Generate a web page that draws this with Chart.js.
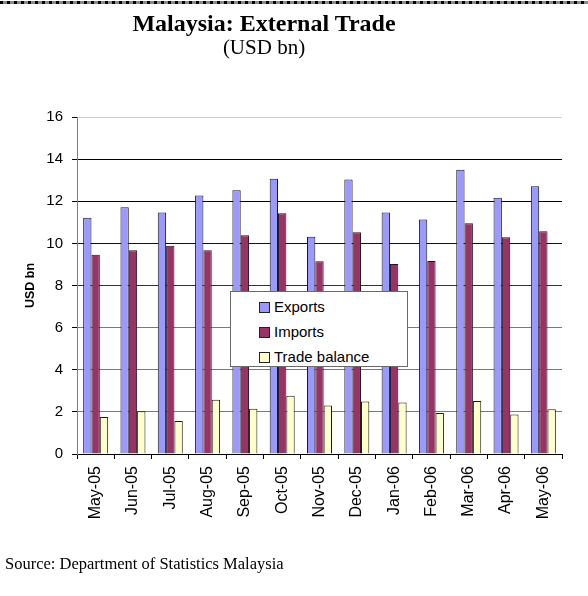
<!DOCTYPE html>
<html>
<head>
<meta charset="utf-8">
<script src="https://cdn.jsdelivr.net/npm/chart.js@4.4.1/dist/chart.umd.min.js"></script>
<style>
  html, body { margin: 0; padding: 0; background: #fff; }
  #wrap { position: relative; width: 588px; height: 596px; overflow: hidden; background: #fff; }
  #topline { position: absolute; left: 0; top: 1px; width: 588px; height: 3px;
    background: repeating-linear-gradient(90deg, #000 0 3.5px, #8a8a8a 3.5px 7px); }
  #c { position: absolute; left: 0; top: 0; }
  .title { position: absolute; left: 0; width: 528px; text-align: center; font-family: "Liberation Serif", "Times New Roman", serif; color: #000; line-height: 1; white-space: nowrap; }
  #t1 { top: 11px; font-size: 24px; font-weight: bold; }
  #t2 { top: 37px; font-size: 21px; }
  #src { position: absolute; left: 5px; top: 556px; font-family: "Liberation Serif", "Times New Roman", serif; font-size: 16.5px; line-height: 1; color: #000; white-space: nowrap; }
  #legend { position: absolute; left: 230px; top: 291px; width: 176px; height: 74px; background: #fff; border: 1px solid #6a6a6a; font-family: "Liberation Sans", Arial, sans-serif; font-size: 15px; color: #000; }
  .item { position: absolute; left: 28px; height: 20px; line-height: 20px; white-space: nowrap; }
  .sw { display: inline-block; width: 9px; height: 9px; border: 1px solid #222; vertical-align: middle; margin-right: 4px; position: relative; top: -1px; }
</style>
</head>
<body>
<div id="wrap">
  <div id="topline"></div>
  <canvas id="c" width="588" height="596"></canvas>
  <div class="title" id="t1">Malaysia: External Trade</div>
  <div class="title" id="t2">(USD bn)</div>
  <div id="legend"></div>
  <div id="src">Source: Department of Statistics Malaysia</div>
</div>
<script>
const categories = ["May-05","Jun-05","Jul-05","Aug-05","Sep-05","Oct-05","Nov-05","Dec-05","Jan-06","Feb-06","Mar-06","Apr-06","May-06"];
const exportsData = [11.22, 11.71, 11.46, 12.27, 12.52, 13.07, 10.32, 13.03, 11.46, 11.13, 13.49, 12.17, 12.71];
const importsData = [9.46, 9.67, 9.89, 9.67, 10.38, 11.43, 9.15, 10.53, 9.02, 9.16, 10.95, 10.29, 10.57];
const balanceData = [1.76, 2.03, 1.57, 2.58, 2.15, 2.77, 2.30, 2.49, 2.44, 1.95, 2.52, 1.88, 2.12];
const seriesNames = ["Exports", "Imports", "Trade balance"];
const seriesColors = ["#9999FF", "#993366", "#FFFFCC"];
const yTicks = [0, 2, 4, 6, 8, 10, 12, 14, 16];

const gridColors = {16: '#cfcfcf', 14: '#000000', 12: '#000000', 10: '#111111', 8: '#333333', 6: '#7a7a7a', 4: '#7a7a7a', 2: '#7a7a7a', 0: 'rgba(0,0,0,0)'};

const seriesData = [exportsData, importsData, balanceData];
const datasets = seriesNames.map((n, i) => ({
  label: n,
  data: seriesData[i],
  backgroundColor: seriesColors[i],
  borderColor: '#1a1a1a',
  borderWidth: 1,
  borderSkipped: 'bottom',
  categoryPercentage: 0.67,
  barPercentage: 1.0
}));

// HTML legend built from the series
const leg = document.getElementById('legend');
const rowTops = [5, 30, 55];
seriesNames.forEach((n, i) => {
  const d = document.createElement('div');
  d.className = 'item';
  d.style.top = rowTops[i] + 'px';
  const s = document.createElement('span');
  s.className = 'sw';
  s.style.background = seriesColors[i];
  d.appendChild(s);
  d.appendChild(document.createTextNode(n));
  leg.appendChild(d);
});

new Chart(document.getElementById('c'), {
  type: 'bar',
  data: { labels: categories, datasets },
  options: {
    responsive: false,
    animation: false,
    devicePixelRatio: 1,
    layout: { padding: { top: 117, right: 26, left: 0, bottom: 0 } },
    plugins: { legend: { display: false }, title: { display: false }, tooltip: { enabled: false } },
    scales: {
      x: {
        offset: true,
        grid: { display: true, drawOnChartArea: false, drawTicks: true, tickLength: 5, offset: true, color: '#000', tickColor: '#000' },
        border: { display: true, color: '#000', width: 1 },
        ticks: { color: '#000', font: { family: '"Liberation Sans", Arial, sans-serif', size: 16 }, minRotation: 90, maxRotation: 90, padding: 7, autoSkip: false },
        afterFit: (s) => { s.height = 142; }
      },
      y: {
        min: 0, max: 16,
        afterBuildTicks: (s) => { s.ticks = yTicks.map(v => ({ value: v })); },
        grid: {
          color: (ctx) => (ctx.tick && gridColors[ctx.tick.value] !== undefined) ? gridColors[ctx.tick.value] : '#7a7a7a',
          tickColor: '#000', tickLength: 5, drawTicks: true, lineWidth: 1
        },
        border: { display: true, color: '#808080', width: 1 },
        ticks: { color: '#000', font: { family: '"Liberation Sans", Arial, sans-serif', size: 15 }, padding: 9 },
        title: { display: true, text: 'USD bn', color: '#000', font: { family: '"Liberation Sans", Arial, sans-serif', size: 12.5, weight: 'bold' }, padding: { top: 23, bottom: 0 } },
        afterFit: (s) => { s.width = 77; }
      }
    }
  }
});
</script>
</body>
</html>
